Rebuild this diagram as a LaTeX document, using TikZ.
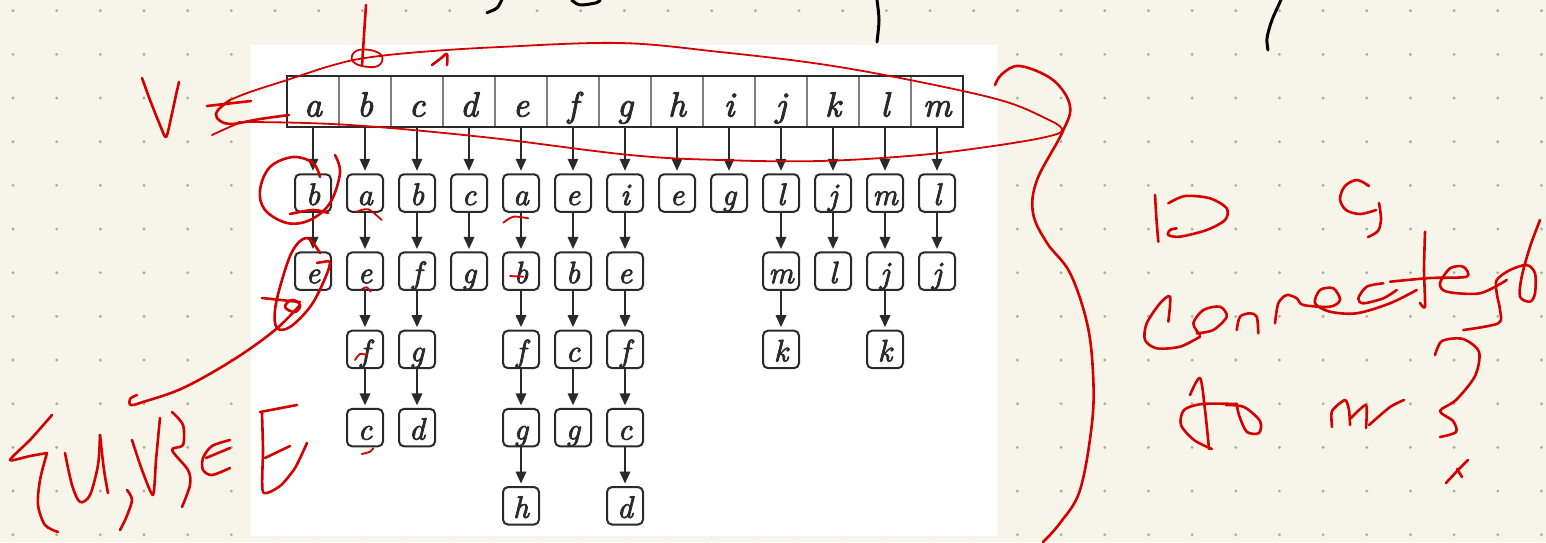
\documentclass[tikz,border=0pt]{standalone}
\usepackage{fontspec}
\newfontface\diagit{lmroman10-italic.otf}[FakeBold=2.5]
\usetikzlibrary{arrows.meta}
\definecolor{paper}{HTML}{F7F5E9}
\definecolor{dotc}{HTML}{ADADA6}
\definecolor{ink}{HTML}{D40000}
\definecolor{boxc}{HTML}{2A2A2A}
\definecolor{cellgray}{HTML}{808080}
\tikzset{
  cell/.style={draw=cellgray, line width=1.2pt, minimum width=52pt, minimum height=51pt,
    inner sep=0pt, text height=35pt, text depth=5pt, text=boxc, font=\fontsize{35}{35}\diagit},
  lnode/.style={draw=boxc, line width=2pt, rounded corners=5pt, minimum width=36pt,
    minimum height=37.5pt, inner sep=0pt, text height=30pt, text depth=6pt, text=boxc,
    fill=white, font=\fontsize{31}{31}\diagit},
  arr/.style={-{Triangle[length=12pt,width=10.5pt]}, line width=1.8pt, draw=boxc, shorten >=2.5pt},
  redink/.style={draw=ink, line width=2.6pt, line cap=round, line join=round},
  thinink/.style={draw=ink, line width=1.8pt, line cap=round, line join=round},
  blackink/.style={draw=black, line width=3pt, line cap=round, line join=round}
}
\begin{document}
\begin{tikzpicture}[x=1pt,y=-1pt]
\useasboundingbox (0,0) rectangle (1546,542);
\fill[paper] (0,0) rectangle (1546,542);
\foreach \i in {0,...,35} {
  \foreach \j in {0,...,12} {
    \fill[dotc] ({13+43.67*\i},{10.7+43.67*\j}) circle (1.6pt);
  }
}
\fill[white] (250.5,45) rectangle (997,535.5);

% top array
\foreach \c [count=\k from 0] in {a,b,c,d,e,f,g,h,i,j,k,l,m} {
  \node[cell] (t\c) at ({313+52*\k},101.5) {\c};
}
\draw[boxc, line width=2.2pt] (287,76) rectangle (963,127);

% adjacency lists
\foreach \c/\x/\items in {a/313/{b,e}, b/365/{a,e,f,c}, c/417/{b,f,g,d}, d/469/{c,g},
    e/521/{a,b,f,g,h}, f/573/{e,b,c,g}, g/625/{i,e,f,c,d}, h/677/{e}, i/729/{g},
    j/781/{l,m,k}, k/833/{j,l}, l/885/{m,j,k}, m/937/{l,j}} {
  \foreach \it [count=\r, remember=\r as \pr (initially 0)] in \items {
    \node[lnode] (\c\r) at ({\x},{193+78.2*(\r-1)}) {\it};
    \ifnum\r=1
      \draw[arr] (t\c.south) -- (\c\r.north);
    \else
      \draw[arr] (\c\pr.south) -- (\c\r.north);
    \fi
  }
}

% black handwriting fragments at the top
\draw[blackink] plot[smooth] coordinates {(877,0) (879,20) (877,42)};
\draw[blackink] plot[smooth] coordinates {(1281,0) (1272,20) (1267,38) (1268,50)};
\draw[blackink] plot[smooth] coordinates {(501.7,0) (497,8) (487,12.7)};
\draw[blackink] plot[smooth] coordinates {(571.7,0) (580,5) (596.7,2.7) (600,0)};

% V and the loop around the array
\draw[redink] plot[smooth, tension=0.5] coordinates {(142,78) (150,100) (160,125) (166,137) (171,118) (176,95) (179,82)};
\draw[redink] (207,106) -- (251,101);
\draw[redink] plot[smooth, tension=0.6] coordinates {(230,100) (218,110) (217,118) (230,124) (260,119) (289,115)};
\draw[thinink] plot[smooth, tension=0.6] coordinates {(230,100) (250,92) (287,80) (330,66) (365,58) (420,52) (500,47) (620,43) (720,52) (820,64) (910,80) (1000,100) (1045,118) (1062,129) (1050,136) (1000,145) (920,155) (820,161) (720,160) (630,155) (483,137) (350,125) (250,122) (237,124) (212,135)};
\draw[redink] plot[smooth, tension=0.6] coordinates {(366,5) (364,35) (362,66)};
\draw[thinink] plot[smooth cycle, tension=0.7] coordinates {(362,66) (352,60) (356,51) (370,50) (382,56) (378,66)};
\draw[redink] plot[smooth, tension=0.5] coordinates {(432,65) (440,59) (447,54) (447,65)};

% circles and marks on the lists
\draw[redink] plot[smooth, tension=0.6] coordinates {(320,177) (313,163) (293,157) (270,167) (260,190) (265,210) (287,223) (310,220) (330,203) (340,173) (335,155)};
\draw[redink] plot[smooth, tension=0.6] coordinates {(290,214) (313,210) (328,213)};
\draw[redink] plot[smooth, tension=0.6] coordinates {(317,263) (323,262) (330,263) (323,283) (310,307) (290,327) (277,328) (275,310) (282,280) (293,250) (307,238) (320,253)};
\draw[redink] (262,298) -- (300,302);
\draw[redink] plot[smooth cycle, tension=0.7] coordinates {(285,307) (295,312) (300,305) (292,300)};
\draw[redink] plot[smooth, tension=0.6] coordinates {(300,305) (275,330) (233,360) (183,388) (143,402) (131,405) (130,399) (137,395)};
\draw[thinink] plot[smooth] coordinates {(356.7,211.7) (368.3,209.3) (381.7,220)};
\draw[thinink] plot[smooth] coordinates {(503.3,222.7) (513.3,216.7) (528.3,218.3)};
\draw[thinink] plot[smooth] coordinates {(361.7,289.3) (366.7,287.3) (370.7,291.7)};
\draw[thinink] plot[smooth] coordinates {(355,360) (360,354) (366.7,355)};
\draw[thinink] plot[smooth] coordinates {(361.7,454) (370,451.7) (373.3,448.3)};
\draw[thinink] (510,276) -- (523.3,276.7);

% {u,v} in E
\draw[redink] plot[smooth, tension=0.4] coordinates {(52,415) (30,440) (10,460) (30,456) (47,453)};
\draw[redink] plot[smooth, tension=0.5] coordinates {(47,453) (40,480) (38,505) (45,525) (58,532)};
\draw[redink] plot[smooth, tension=0.5] coordinates {(65,453) (72,485) (80,502) (90,495) (98,465) (100,435)};
\draw[redink] plot[smooth, tension=0.5] coordinates {(100,435) (104,470) (108,493)};
\draw[redink] plot[smooth, tension=0.5] coordinates {(127,490) (132,500) (126,518) (120,530)};
\draw[redink] plot[smooth, tension=0.4] coordinates {(132,440) (142,470) (153,495) (156,460) (160,418)};
\draw[redink] plot[smooth, tension=0.5] coordinates {(172,412) (183,425) (183,445) (172,450) (188,470) (190,485) (182,507)};
\draw[redink] plot[smooth, tension=0.5] coordinates {(230,440) (212,446) (203,458) (203,470) (212,475) (230,468)};
\draw[redink] (206,458) -- (230,448);
\draw[redink] (260,412) -- (297,405);
\draw[redink] plot[smooth, tension=0.4] coordinates {(262,413) (263,450) (263,492) (280,486) (295,468) (307,443)};
\draw[redink] (265,458) -- (290,446);

% big bracket on the right
\draw[redink] plot[smooth, tension=0.6] coordinates {(995,85) (1002,74) (1020,66) (1053,80) (1070,106) (1062,133) (1037,180) (1033,213) (1047,243) (1070,273) (1087,323) (1093,373) (1092,423) (1080,490) (1060,523) (1043,542)};

% is a
\draw[redink] plot[smooth] coordinates {(1155,195) (1156.5,220) (1158.3,241.7)};
\draw[redink] plot[smooth, tension=0.5] coordinates {(1168.3,203.3) (1185,196) (1210,198.3) (1226.7,208.3) (1225,220) (1206.7,230) (1180,236.7) (1168.3,235) (1170,230) (1176.7,228.3)};
\draw[redink] plot[smooth, tension=0.55] coordinates {(1369,186) (1357,180) (1345,186) (1340,199) (1346,210) (1360,214) (1376,210)};
\draw[redink] plot[smooth, tension=0.5] coordinates {(1379,203) (1381,219) (1378,231) (1368,237)};
% connected
\draw[redink] plot[smooth, tension=0.5] coordinates {(1168.3,321.7) (1170,296.7) (1160,303.3) (1146.7,323.3) (1145,340) (1156.7,348.3) (1180,346.7) (1200,336.7)};
\draw[redink] plot[smooth, tension=0.5] coordinates {(1200,335) (1193.3,323.3) (1203.3,310) (1220,306.7) (1226.7,316.7) (1213.3,330) (1196.7,333.3)};
\draw[redink] plot[smooth, tension=0.5] coordinates {(1236.7,330) (1240,316.7) (1250,313.3) (1256.7,316.7) (1258.3,333.3)};
\draw[redink] plot[smooth, tension=0.5] coordinates {(1275,323.3) (1278.3,303.3) (1286.7,295) (1296.7,298.3) (1303.3,305) (1330,306.7) (1340,300) (1333.3,288.3) (1320,290) (1315,303.3) (1330,311.7) (1356.7,313.3) (1390,303.3) (1416.7,290)};
\draw[redink] plot[smooth, tension=0.5] coordinates {(1383.3,283.3) (1366.7,286.7) (1358.3,298.3) (1363.3,303.3) (1383.3,298.3) (1396.7,290)};
\draw[redink] plot[smooth, tension=0.4] coordinates {(1425,231.7) (1424,270) (1425,306.7) (1420,303)};
\draw[redink] plot[smooth, tension=0.5] coordinates {(1390,281.7) (1430,278) (1466.7,276.7) (1463.3,266.7) (1450,268.3) (1440,283.3) (1446.7,291.7) (1480,293.3) (1506.7,280)};
\draw[redink] plot[smooth, tension=0.5] coordinates {(1540,220) (1530,246.7) (1521.7,276.7) (1520,296.7) (1530,301.7) (1535,293.3) (1535,273.3) (1526.7,265) (1510,270) (1496.7,280) (1496.7,293.3) (1500,310) (1498.3,323.3) (1463.3,330)};
% to m ?
\draw[redink] plot[smooth, tension=0.5] coordinates {(1190,395) (1200,378) (1205,410) (1209,449)};
\draw[redink] plot[smooth, tension=0.5] coordinates {(1212,449) (1194,440) (1181,425) (1184,410) (1202,404) (1237,404)};
\draw[redink] plot[smooth, tension=0.5] coordinates {(1226,405) (1244,407) (1260,421) (1259,433) (1247,432) (1240,418) (1237,407)};
\draw[redink] plot[smooth, tension=0.4] coordinates {(1332,427) (1332,411) (1345,400) (1349,410) (1350,425)};
\draw[redink] plot[smooth, tension=0.4] coordinates {(1351,418) (1366,405) (1366,428)};
\draw[redink] plot[smooth, tension=0.4] coordinates {(1369,425) (1390,407) (1404,400)};
\draw[redink] plot[smooth, tension=0.5] coordinates {(1435,355) (1442,341) (1463,339) (1479,352) (1475,376) (1456,400) (1440,411) (1453,421) (1456,432) (1440,437)};
\draw[redink] plot[smooth, tension=0.5] coordinates {(1446,483) (1458,470) (1468,460)};
\draw[redink] (1457,469) -- (1462,477);
\end{tikzpicture}
\end{document}
